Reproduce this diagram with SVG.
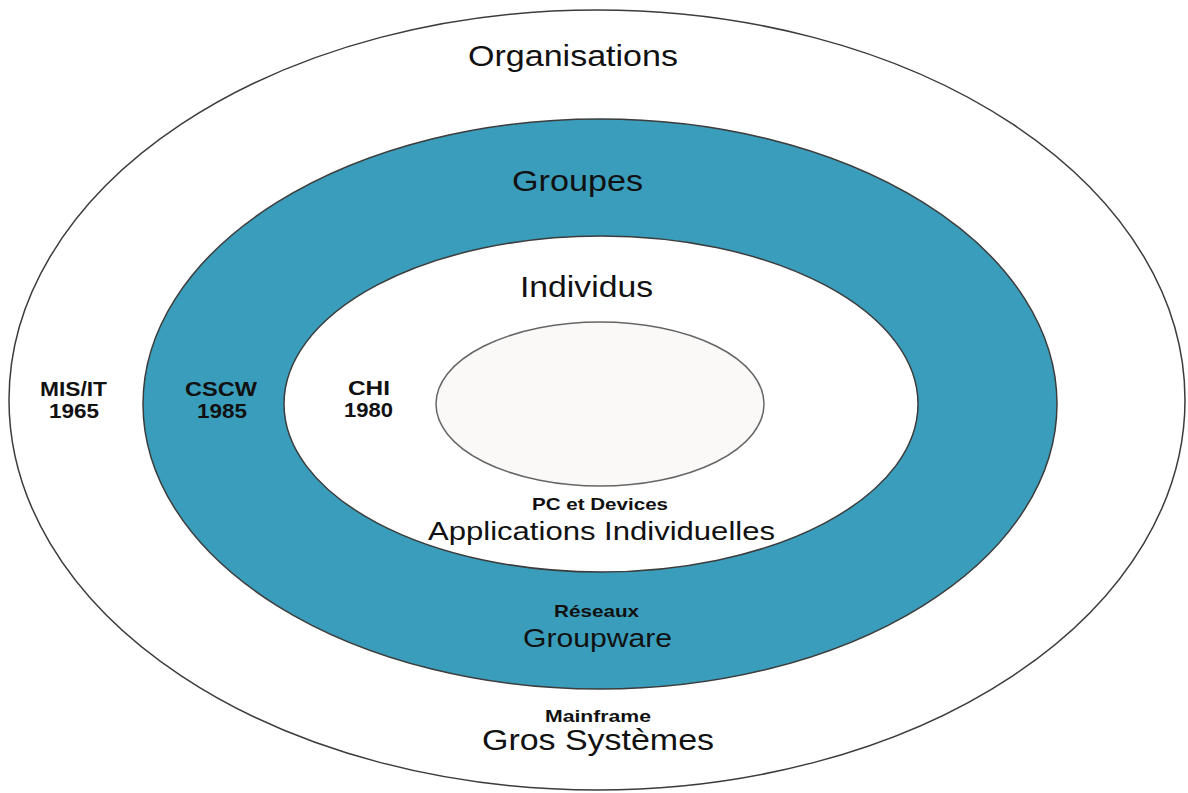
<svg xmlns="http://www.w3.org/2000/svg" width="1188" height="793" viewBox="0 0 1188 793">
<style>
.ring{stroke:#3c3c3c;stroke-width:1.5}
.t{font-family:"Liberation Sans",Arial,sans-serif;fill:#111;text-anchor:start}
.big{font-size:29px}
.mid{font-size:25px}
.lbl{font-size:21px;font-weight:bold}
.sm{font-size:17px;font-weight:bold}
</style>
<rect x="0" y="0" width="1188" height="793" fill="#ffffff"/>
<g id="organisations">
<ellipse class="ring" cx="597" cy="400" rx="588" ry="390" fill="#ffffff" stroke="#555"/>
<text class="t big" x="468" y="66" textLength="210" lengthAdjust="spacingAndGlyphs">Organisations</text>
<text class="t lbl" x="40" y="396" textLength="67" lengthAdjust="spacingAndGlyphs">MIS/IT</text>
<text class="t lbl" x="49" y="418" textLength="50" lengthAdjust="spacingAndGlyphs">1965</text>
<text class="t sm" x="545" y="722" textLength="106" lengthAdjust="spacingAndGlyphs">Mainframe</text>
<text class="t big" x="482" y="750" textLength="232" lengthAdjust="spacingAndGlyphs">Gros Systèmes</text>
</g>
<g id="groupes">
<ellipse class="ring" cx="600" cy="404" rx="457" ry="285" fill="#3a9dbb"/>
<text class="t big" x="512" y="191" textLength="131" lengthAdjust="spacingAndGlyphs">Groupes</text>
<text class="t lbl" x="185" y="396" textLength="72" lengthAdjust="spacingAndGlyphs">CSCW</text>
<text class="t lbl" x="197" y="418" textLength="50" lengthAdjust="spacingAndGlyphs">1985</text>
<text class="t sm" x="554" y="617" textLength="85" lengthAdjust="spacingAndGlyphs">Réseaux</text>
<text class="t mid" x="523" y="647" textLength="149" lengthAdjust="spacingAndGlyphs">Groupware</text>
</g>
<g id="individus">
<ellipse class="ring" cx="601" cy="404" rx="317" ry="168" fill="#ffffff"/>
<text class="t big" x="520" y="297" textLength="133" lengthAdjust="spacingAndGlyphs">Individus</text>
<text class="t lbl" x="348" y="395" textLength="42" lengthAdjust="spacingAndGlyphs">CHI</text>
<text class="t lbl" x="344" y="417" textLength="49" lengthAdjust="spacingAndGlyphs">1980</text>
<text class="t sm" x="532" y="510" textLength="136" lengthAdjust="spacingAndGlyphs">PC et Devices</text>
<text class="t mid" x="428" y="540" textLength="347" lengthAdjust="spacingAndGlyphs">Applications Individuelles</text>
</g>
<g id="core">
<ellipse cx="600" cy="404" rx="164" ry="82" fill="#faf9f7" stroke="#666" stroke-width="1.5"/>
</g>
<g id="connectors"></g>
</svg>
